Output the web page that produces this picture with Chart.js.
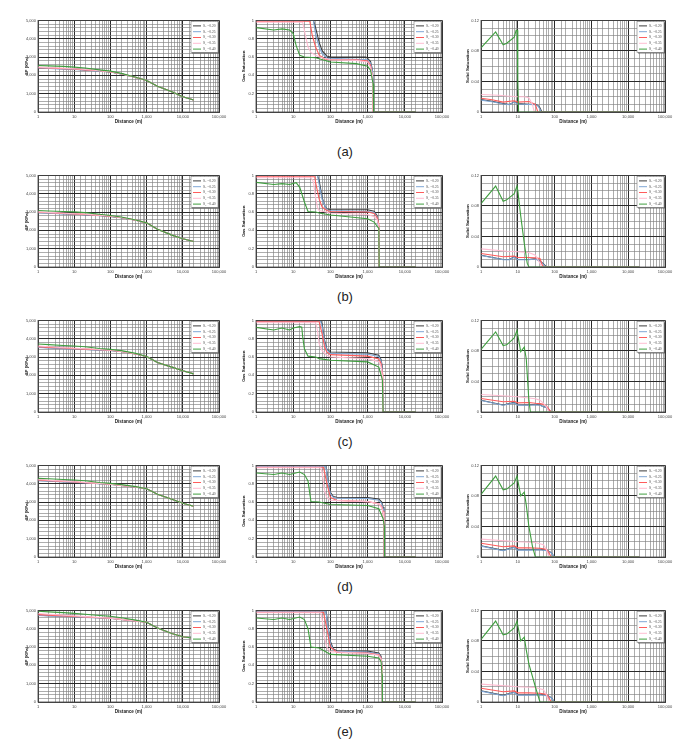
<!DOCTYPE html>
<html>
<head>
<meta charset="utf-8">
<script src="https://cdn.jsdelivr.net/npm/chart.js@4.4.1/dist/chart.umd.min.js"></script>
<style>
  body { margin: 0; background: #fff; width: 678px; height: 747px; position: relative; overflow: hidden; }
  canvas { position: absolute; }
  .cap { position: absolute; width: 60px; text-align: center; font: 13px "Liberation Sans", Arial, sans-serif; color: #222; }
</style>
</head>
<body>
<script>
// legend values (S_L)
const slLabels = ['0.20', '0.25', '0.30', '0.35', '0.40'];
const captions = ['(a)', '(b)', '(c)', '(d)', '(e)'];
const xTickLabels = ['1', '10', '100', '1,000', '10,000', '100,000'];

// ---- pressure drop, kPa (left column) ----
const dpDist = [1, 2, 5, 10, 20, 50, 100, 200, 500, 1000, 2000, 5000, 10000, 20000];
const dpDistE = [1, 2, 5, 10, 20, 50, 100, 200, 500, 1000, 2000, 5000, 10000, 40000];

const dpA20 = [2410, 2390, 2360, 2340, 2300, 2240, 2190, 2080, 1890, 1720, 1410, 1100, 830, 650];
const dpA25 = [2400, 2380, 2340, 2320, 2280, 2230, 2180, 2080, 1890, 1720, 1410, 1100, 830, 650];
const dpA30 = [2420, 2400, 2370, 2350, 2300, 2250, 2190, 2090, 1890, 1720, 1410, 1100, 830, 650];
const dpA35 = [2450, 2420, 2390, 2360, 2320, 2260, 2200, 2090, 1890, 1720, 1410, 1100, 830, 650];
const dpA40 = [2540, 2520, 2490, 2450, 2400, 2300, 2230, 2110, 1900, 1720, 1410, 1100, 830, 650];

const dpB20 = [2970, 2950, 2910, 2890, 2860, 2810, 2760, 2690, 2550, 2410, 2060, 1740, 1540, 1390];
const dpB25 = [2960, 2940, 2900, 2880, 2850, 2800, 2760, 2690, 2550, 2410, 2060, 1740, 1540, 1390];
const dpB30 = [2990, 2960, 2920, 2900, 2870, 2820, 2770, 2700, 2560, 2410, 2060, 1740, 1540, 1390];
const dpB35 = [3010, 2980, 2940, 2910, 2880, 2830, 2780, 2700, 2560, 2410, 2060, 1740, 1540, 1390];
const dpB40 = [3080, 3060, 3030, 3010, 2970, 2880, 2810, 2730, 2570, 2410, 2060, 1740, 1540, 1390];

const dpC20 = [3540, 3510, 3470, 3450, 3420, 3390, 3360, 3300, 3170, 3030, 2700, 2450, 2250, 2080];
const dpC25 = [3530, 3500, 3460, 3440, 3410, 3380, 3360, 3300, 3170, 3030, 2700, 2450, 2250, 2080];
const dpC30 = [3570, 3530, 3490, 3460, 3430, 3400, 3370, 3310, 3170, 3030, 2700, 2450, 2250, 2080];
const dpC35 = [3600, 3560, 3510, 3480, 3450, 3410, 3380, 3310, 3180, 3030, 2700, 2450, 2250, 2080];
const dpC40 = [3710, 3680, 3630, 3600, 3560, 3470, 3420, 3350, 3200, 3030, 2700, 2450, 2250, 2080];

const dpD20 = [4180, 4150, 4110, 4080, 4050, 4000, 3970, 3900, 3810, 3730, 3420, 3150, 2930, 2770];
const dpD25 = [4170, 4140, 4100, 4070, 4040, 4000, 3960, 3900, 3810, 3730, 3420, 3150, 2930, 2770];
const dpD30 = [4200, 4170, 4120, 4090, 4060, 4010, 3970, 3910, 3820, 3730, 3420, 3150, 2930, 2770];
const dpD35 = [4230, 4190, 4140, 4110, 4070, 4020, 3980, 3910, 3820, 3730, 3420, 3150, 2930, 2770];
const dpD40 = [4290, 4270, 4230, 4200, 4160, 4070, 4020, 3950, 3840, 3730, 3420, 3150, 2930, 2770];

const dpE20 = [4740, 4710, 4680, 4660, 4630, 4600, 4570, 4500, 4420, 4350, 4040, 3740, 3560, 3400];
const dpE25 = [4730, 4700, 4670, 4650, 4620, 4590, 4560, 4500, 4420, 4350, 4040, 3740, 3560, 3400];
const dpE30 = [4770, 4740, 4700, 4670, 4640, 4600, 4570, 4510, 4420, 4350, 4040, 3740, 3560, 3400];
const dpE35 = [4830, 4790, 4740, 4700, 4660, 4610, 4580, 4510, 4430, 4350, 4040, 3740, 3560, 3400];
const dpE40 = [4950, 4920, 4880, 4840, 4790, 4720, 4680, 4600, 4470, 4350, 4040, 3740, 3560, 3400];

// ---- gas saturation (middle column), [distance, value] ----
const gasA20 = [[1,1],[35,1],[40,0.92],[50,0.76],[60,0.67],[80,0.61],[100,0.6],[900,0.6],[1000,0.586],[1200,0.55],[1350,0.46],[1420,0.3],[1450,0],[20000,0]];
const gasA25 = [[1,1],[35,1],[40,0.85],[50,0.71],[60,0.64],[80,0.59],[100,0.586],[1000,0.571],[1200,0.536],[1350,0.45],[1400,0.31],[1430,0],[20000,0]];
const gasA30 = [[1,0.99],[28,0.99],[32,0.85],[40,0.71],[50,0.62],[70,0.58],[100,0.57],[500,0.57],[1000,0.557],[1200,0.51],[1350,0.39],[1400,0],[20000,0]];
const gasA35 = [[1,0.979],[18,0.979],[22,0.81],[25,0.71],[30,0.65],[40,0.62],[50,0.6],[100,0.57],[500,0.564],[1000,0.546],[1200,0.49],[1350,0.4],[1400,0],[20000,0]];
const gasA40 = [[1,0.921],[3,0.896],[5,0.907],[8,0.896],[10,0.857],[12,0.725],[15,0.618],[20,0.6],[40,0.593],[50,0.582],[100,0.546],[500,0.528],[1000,0.5],[1200,0.457],[1400,0.31],[1450,0],[20000,0]];

const gasB20 = [[1,1],[45,1],[50,0.94],[60,0.76],[70,0.67],[80,0.635],[100,0.628],[1000,0.625],[1500,0.61],[1800,0.56],[2000,0.44],[2050,0],[20000,0]];
const gasB25 = [[1,1],[45,1],[50,0.9],[60,0.74],[80,0.62],[100,0.617],[1000,0.606],[1500,0.595],[1800,0.55],[2000,0.4],[2050,0.2],[2060,0],[20000,0]];
const gasB30 = [[1,0.985],[38,0.985],[40,0.92],[50,0.74],[60,0.653],[80,0.617],[100,0.606],[1000,0.6],[1500,0.585],[1800,0.54],[2000,0.47],[2050,0],[20000,0]];
const gasB35 = [[1,0.975],[30,0.975],[35,0.93],[40,0.76],[45,0.65],[50,0.617],[100,0.59],[1000,0.574],[1500,0.55],[1800,0.52],[2000,0.45],[2050,0],[20000,0]];
const gasB40 = [[1,0.924],[3,0.9],[5,0.91],[8,0.9],[12,0.92],[15,0.87],[20,0.71],[25,0.606],[40,0.6],[50,0.59],[100,0.567],[1000,0.527],[1500,0.49],[2000,0.42],[2050,0],[20000,0]];

const gasC20 = [[1,1],[55,1],[60,0.96],[70,0.78],[80,0.69],[100,0.655],[1000,0.647],[2000,0.62],[2300,0.57],[2500,0.49],[2600,0],[20000,0]];
const gasC25 = [[1,0.99],[55,0.99],[60,0.93],[70,0.76],[80,0.68],[100,0.64],[1000,0.63],[2000,0.605],[2300,0.56],[2500,0.46],[2600,0],[20000,0]];
const gasC30 = [[1,0.985],[50,0.985],[60,0.85],[70,0.71],[80,0.655],[100,0.626],[1000,0.61],[2000,0.58],[2300,0.53],[2500,0.42],[2550,0],[20000,0]];
const gasC35 = [[1,0.975],[40,0.975],[45,0.89],[50,0.745],[60,0.67],[80,0.62],[100,0.6],[1000,0.583],[2000,0.55],[2300,0.5],[2500,0.4],[2550,0],[20000,0]];
const gasC40 = [[1,0.924],[3,0.896],[5,0.917],[8,0.896],[10,0.917],[15,0.932],[17,0.925],[18,0.82],[20,0.69],[25,0.61],[40,0.6],[50,0.583],[100,0.565],[1000,0.547],[2000,0.49],[2500,0.35],[2600,0],[20000,0]];

const gasD20 = [[1,1],[75,1],[80,0.94],[90,0.8],[100,0.706],[120,0.66],[150,0.652],[1000,0.65],[2000,0.634],[2400,0.6],[2600,0.545],[2750,0.4],[2800,0],[20000,0]];
const gasD25 = [[1,0.99],[75,0.99],[80,0.92],[90,0.78],[100,0.69],[120,0.65],[150,0.642],[1000,0.638],[2000,0.62],[2400,0.585],[2600,0.53],[2750,0.38],[2800,0],[20000,0]];
const gasD30 = [[1,0.98],[65,0.98],[80,0.81],[100,0.65],[150,0.616],[1000,0.605],[2000,0.58],[2400,0.55],[2600,0.5],[2750,0.35],[2800,0],[20000,0]];
const gasD35 = [[1,0.975],[55,0.975],[60,0.92],[70,0.72],[80,0.65],[100,0.62],[1000,0.605],[2000,0.58],[2400,0.54],[2600,0.49],[2750,0.34],[2800,0],[20000,0]];
const gasD40 = [[1,0.917],[3,0.9],[5,0.917],[8,0.9],[15,0.928],[20,0.9],[25,0.83],[30,0.606],[50,0.6],[100,0.573],[1000,0.563],[2000,0.527],[2600,0.42],[2800,0.34],[2850,0],[20000,0]];

const gasE20 = [[1,1],[75,1],[80,0.94],[90,0.78],[100,0.66],[120,0.58],[150,0.56],[1000,0.555],[2000,0.535],[2300,0.5],[2450,0.4],[2500,0],[20000,0]];
const gasE25 = [[1,0.99],[75,0.99],[80,0.92],[90,0.76],[100,0.64],[120,0.57],[150,0.55],[1000,0.545],[2000,0.525],[2300,0.49],[2450,0.38],[2500,0],[20000,0]];
const gasE30 = [[1,0.98],[65,0.98],[80,0.8],[100,0.6],[150,0.54],[1000,0.535],[2000,0.515],[2300,0.48],[2450,0.37],[2500,0],[20000,0]];
const gasE35 = [[1,0.975],[55,0.975],[60,0.9],[70,0.7],[80,0.6],[100,0.55],[1000,0.53],[2000,0.51],[2300,0.47],[2450,0.36],[2500,0],[20000,0]];
const gasE40 = [[1,0.917],[3,0.9],[5,0.917],[8,0.9],[15,0.928],[20,0.9],[25,0.8],[30,0.6],[50,0.59],[100,0.52],[1000,0.5],[2000,0.48],[2300,0.44],[2450,0.3],[2500,0],[20000,0]];

// ---- solid saturation (right column), [distance, value] ----
const solA20 = [[1,0.0164],[2,0.014],[4,0.011],[6,0.0099],[8,0.0134],[10,0.011],[20,0.01],[30,0.01],[35,0.0086],[40,0.0056],[45,0],[20000,0]];
const solA25 = [[1,0.0155],[2,0.0135],[4,0.0105],[6,0.0095],[8,0.013],[10,0.0105],[20,0.0098],[30,0.0095],[35,0.008],[40,0.004],[43,0],[20000,0]];
const solA30 = [[1,0.018],[2,0.016],[4,0.013],[8,0.0147],[10,0.013],[20,0.0138],[30,0.01],[35,0],[20000,0]];
const solA35 = [[1,0.0229],[3,0.022],[5,0.021],[10,0.02],[15,0.02],[20,0.0186],[25,0.01],[28,0],[20000,0]];
const solA40 = [[1,0.084],[2.5,0.105],[4,0.088],[5,0.09],[8,0.098],[9,0.107],[9.6,0.107],[10,0.042],[10.5,0],[20000,0]];

const solB20 = [[1,0.0155],[4,0.0099],[6,0.0099],[8,0.0134],[10,0.0099],[20,0.0099],[30,0.011],[40,0.0078],[50,0.004],[60,0],[20000,0]];
const solB25 = [[1,0.015],[4,0.0095],[6,0.0095],[8,0.0128],[10,0.0095],[20,0.0095],[30,0.0105],[40,0.0075],[50,0.0035],[58,0],[20000,0]];
const solB30 = [[1,0.0177],[4,0.0134],[8,0.0143],[10,0.0125],[20,0.0125],[30,0.012],[40,0.0112],[45,0.004],[50,0],[20000,0]];
const solB35 = [[1,0.0237],[5,0.0207],[10,0.02],[20,0.019],[30,0.0155],[40,0.005],[45,0],[20000,0]];
const solB40 = [[1,0.083],[2.5,0.106],[4,0.086],[5,0.088],[8,0.096],[9.5,0.106],[10,0.1],[12,0.067],[15,0.031],[18,0.005],[20,0],[20000,0]];

const solC20 = [[1,0.0155],[4,0.0091],[8,0.0125],[10,0.0095],[20,0.0091],[30,0.01],[40,0.0091],[50,0.007],[60,0.006],[80,0],[20000,0]];
const solC25 = [[1,0.015],[4,0.0088],[8,0.012],[10,0.009],[20,0.0088],[30,0.0095],[40,0.0088],[50,0.0068],[60,0.0058],[78,0],[20000,0]];
const solC30 = [[1,0.0177],[4,0.0135],[8,0.014],[10,0.012],[20,0.0125],[30,0.0115],[40,0.011],[50,0.01],[60,0.008],[80,0],[20000,0]];
const solC35 = [[1,0.0229],[10,0.0199],[30,0.0173],[40,0.0155],[50,0.0112],[60,0.007],[70,0],[20000,0]];
const solC40 = [[1,0.082],[2.5,0.105],[4,0.087],[5,0.088],[8,0.097],[9.5,0.107],[12,0.079],[15,0.085],[17,0.0695],[18,0.05],[20,0.0155],[22,0],[20000,0]];

const solD20 = [[1,0.0147],[4,0.0087],[8,0.013],[10,0.0095],[20,0.0095],[40,0.01],[60,0.0087],[80,0.006],[100,0],[20000,0]];
const solD25 = [[1,0.0142],[4,0.0083],[8,0.0125],[10,0.009],[20,0.009],[40,0.0095],[60,0.0083],[80,0.0058],[100,0],[20000,0]];
const solD30 = [[1,0.018],[4,0.0135],[8,0.0145],[10,0.012],[20,0.012],[40,0.0115],[60,0.01],[70,0.006],[80,0],[20000,0]];
const solD35 = [[1,0.0234],[10,0.02],[30,0.019],[50,0.016],[60,0.0095],[70,0],[20000,0]];
const solD40 = [[1,0.082],[2.5,0.106],[4,0.088],[5,0.089],[8,0.097],[9.5,0.106],[12,0.08],[15,0.085],[17,0.068],[20,0.04],[25,0.014],[30,0],[20000,0]];

const solE20 = [[1,0.0147],[4,0.0087],[8,0.013],[10,0.0095],[20,0.0095],[40,0.01],[60,0.0087],[80,0.006],[100,0],[20000,0]];
const solE25 = [[1,0.0142],[4,0.0083],[8,0.0125],[10,0.009],[20,0.009],[40,0.0095],[60,0.0083],[80,0.0058],[100,0],[20000,0]];
const solE30 = [[1,0.018],[4,0.0135],[8,0.0145],[10,0.012],[20,0.012],[40,0.0115],[60,0.01],[70,0.006],[80,0],[20000,0]];
const solE35 = [[1,0.0234],[10,0.02],[30,0.019],[50,0.016],[60,0.0095],[70,0],[20000,0]];
const solE40 = [[1,0.082],[2.5,0.106],[4,0.088],[5,0.089],[8,0.097],[9.5,0.106],[12,0.08],[15,0.085],[17,0.068],[20,0.05],[30,0.02],[40,0],[20000,0]];

// series colours, same order as slLabels
const lineColors = ['#3c3c3c', '#7fa7d6', '#ff5c5c', '#ffbdd2', '#3f9e3f'];

// ---------------- layout ----------------
const rowTops = [20, 175, 320, 465, 610];
const capTops = [144, 289, 434, 579, 724];
const plotH = 92;

const isPow10 = v => Math.abs(Math.log10(v) - Math.round(Math.log10(v))) < 1e-9;
const onStep = (v, s) => Math.abs(v / s - Math.round(v / s)) < 1e-6;
const tickFont = { family: '"Liberation Sans", Arial, sans-serif', size: 4 };

const frame = {
  id: 'frame',
  afterDatasetsDraw(chart) {
    const { ctx, chartArea: a } = chart;
    ctx.save();
    ctx.strokeStyle = '#444';
    ctx.lineWidth = 0.8;
    ctx.strokeRect(a.left, a.top, a.right - a.left, a.bottom - a.top);
    ctx.restore();
  }
};

const boxLegend = {
  id: 'boxLegend',
  afterDraw(chart) {
    const { ctx, chartArea: a } = chart;
    const w = 27, h = 31;
    const x0 = a.right - w - 1, y0 = a.top + 1;
    ctx.save();
    ctx.fillStyle = '#555';
    ctx.fillRect(x0 + 1, y0 + 1, w, h);
    ctx.fillStyle = '#fff';
    ctx.fillRect(x0, y0, w, h);
    ctx.strokeStyle = '#777';
    ctx.lineWidth = 0.6;
    ctx.strokeRect(x0, y0, w, h);
    chart.data.datasets.forEach((ds, i) => {
      const y = y0 + 4.5 + i * 5.8;
      ctx.strokeStyle = ds.borderColor;
      ctx.lineWidth = 1;
      ctx.beginPath();
      ctx.moveTo(x0 + 2, y);
      ctx.lineTo(x0 + 10, y);
      ctx.stroke();
      ctx.fillStyle = '#444';
      ctx.textBaseline = 'middle';
      ctx.font = '3.6px "Liberation Serif", serif';
      let x = x0 + 12;
      ctx.fillText('S', x, y);
      x += ctx.measureText('S').width;
      ctx.font = '2.6px "Liberation Serif", serif';
      ctx.fillText('L', x, y + 0.9);
      x += ctx.measureText('L').width + 0.6;
      ctx.font = '3.6px "Liberation Serif", serif';
      ctx.fillText('=' + slLabels[i], x, y);
    });
    ctx.restore();
  }
};

function makeChart(plotLeft, plotTop, plotW, axisW, yTitle, yOpt, series) {
  const padR = 12, padT = 4, axH = 12;
  const c = document.createElement('canvas');
  c.width = axisW + plotW + padR;
  c.height = padT + plotH + axH;
  c.style.left = (plotLeft - axisW) + 'px';
  c.style.top = (plotTop - padT) + 'px';
  document.body.appendChild(c);

  const datasets = series.map((pts, i) => ({
    label: 'S_L=' + slLabels[i],
    data: pts.map(p => ({ x: p[0], y: p[1] })),
    borderColor: lineColors[i],
    borderWidth: 1.1,
    pointRadius: 0,
    tension: 0,
    fill: false,
    order: series.length - 1 - i
  }));

  new Chart(c, {
    type: 'line',
    data: { datasets },
    options: {
      responsive: false,
      animation: false,
      events: [],
      layout: { padding: { left: 0, top: padT, right: padR, bottom: 0 } },
      plugins: { legend: { display: false }, tooltip: { enabled: false } },
      scales: {
        x: {
          type: 'logarithmic',
          min: 1,
          max: 100000,
          afterFit: s => { s.height = axH; },
          grid: {
            drawTicks: false,
            color: ctx => (ctx.tick && isPow10(ctx.tick.value)) ? '#2a2a2a' : '#808080',
            lineWidth: ctx => (ctx.tick && isPow10(ctx.tick.value)) ? 1 : 0.65
          },
          border: { color: '#444' },
          ticks: {
            autoSkip: false,
            maxRotation: 0,
            padding: 2,
            color: '#444',
            font: tickFont,
            callback: v => isPow10(v) ? xTickLabels[Math.round(Math.log10(v))] : ''
          },
          title: {
            display: true,
            text: 'Distance (m)',
            color: '#222',
            padding: 0,
            font: { family: '"Liberation Sans", Arial, sans-serif', size: 4.6, weight: 'bold' }
          }
        },
        y: {
          min: 0,
          max: yOpt.max,
          afterFit: s => { s.width = axisW; },
          grid: {
            drawTicks: false,
            color: ctx => (ctx.tick && onStep(ctx.tick.value, yOpt.major)) ? '#2a2a2a' : '#808080',
            lineWidth: ctx => (ctx.tick && onStep(ctx.tick.value, yOpt.major)) ? 1 : 0.65
          },
          border: { color: '#444' },
          ticks: {
            stepSize: yOpt.minor,
            autoSkip: false,
            padding: 2,
            color: '#444',
            font: tickFont,
            callback: v => onStep(v, yOpt.major) ? yOpt.fmt(v) : ''
          },
          title: {
            display: true,
            text: yTitle,
            color: '#222',
            padding: 0,
            font: { family: '"Liberation Sans", Arial, sans-serif', size: 4.4, weight: 'bold' }
          }
        }
      }
    },
    plugins: [frame, boxLegend]
  });
}

const dpRows = [
  [dpA20, dpA25, dpA30, dpA35, dpA40],
  [dpB20, dpB25, dpB30, dpB35, dpB40],
  [dpC20, dpC25, dpC30, dpC35, dpC40],
  [dpD20, dpD25, dpD30, dpD35, dpD40],
  [dpE20, dpE25, dpE30, dpE35, dpE40]
];
const gasRows = [
  [gasA20, gasA25, gasA30, gasA35, gasA40],
  [gasB20, gasB25, gasB30, gasB35, gasB40],
  [gasC20, gasC25, gasC30, gasC35, gasC40],
  [gasD20, gasD25, gasD30, gasD35, gasD40],
  [gasE20, gasE25, gasE30, gasE35, gasE40]
];
const solRows = [
  [solA20, solA25, solA30, solA35, solA40],
  [solB20, solB25, solB30, solB35, solB40],
  [solC20, solC25, solC30, solC35, solC40],
  [solD20, solD25, solD30, solD35, solD40],
  [solE20, solE25, solE30, solE35, solE40]
];

const dpAxis = { max: 5000, major: 1000, minor: 200, fmt: v => v.toLocaleString('en-US') };
const gasAxis = { max: 1, major: 0.2, minor: 0.04, fmt: v => String(Math.round(v * 10) / 10) };
const solAxis = { max: 0.12, major: 0.04, minor: 0.01, fmt: v => String(Math.round(v * 100) / 100) };

rowTops.forEach((top, r) => {
  const dist = r === 4 ? dpDistE : dpDist;
  const dpSeries = dpRows[r].map(vals => vals.map((v, i) => [dist[i], v]));
  makeChart(38, top, 181, 14, 'ΔP (KPa)', dpAxis, dpSeries);
  makeChart(256, top, 186, 15, 'Gas Saturation', gasAxis, gasRows[r]);
  makeChart(481, top, 184, 16, 'Solid Saturation', solAxis, solRows[r]);

  const cap = document.createElement('div');
  cap.className = 'cap';
  cap.textContent = captions[r];
  cap.style.left = (345 - 30) + 'px';
  cap.style.top = capTops[r] + 'px';
  document.body.appendChild(cap);
});
</script>
</body>
</html>
